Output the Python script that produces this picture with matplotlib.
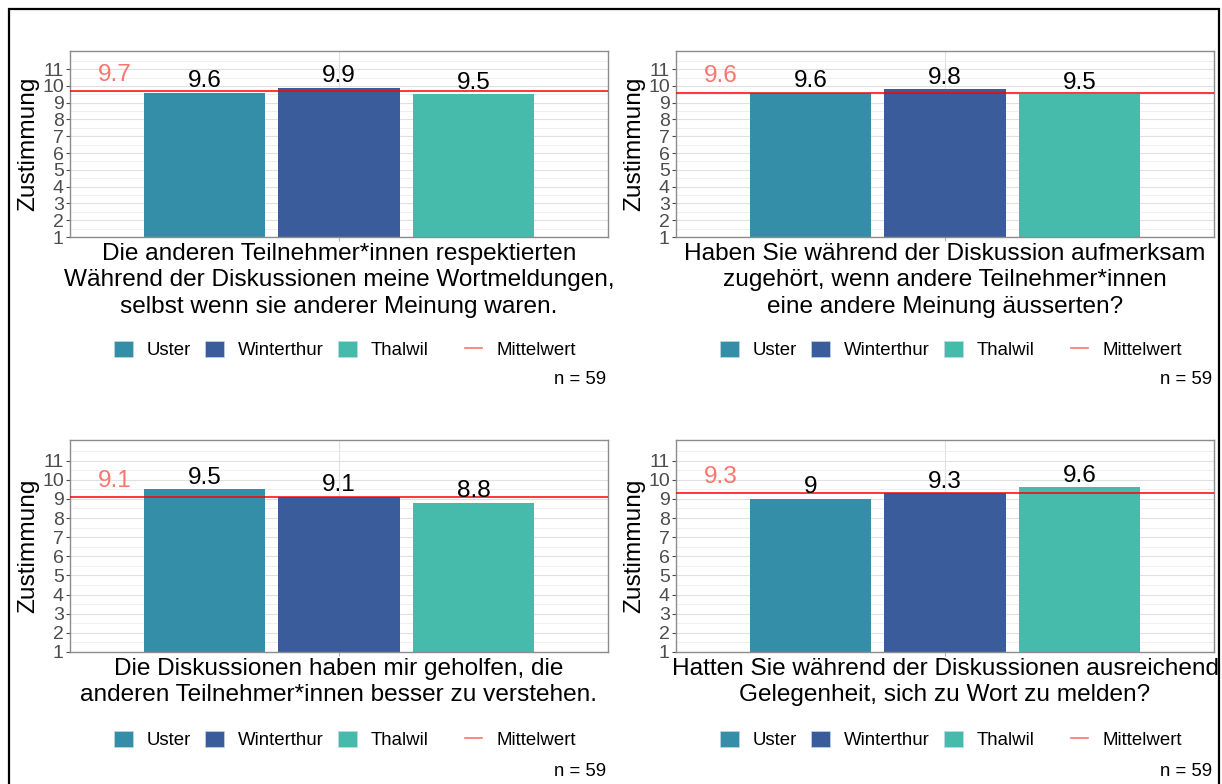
import numpy as np
import matplotlib
matplotlib.use('Agg')
import matplotlib.pyplot as plt
from matplotlib.patches import Patch, Rectangle
from matplotlib.lines import Line2D

plt.rcParams['font.family'] = ['Liberation Sans', 'DejaVu Sans']

# data
orte = ['Uster', 'Winterthur', 'Thalwil']
farben = ['#348EA8', '#3B5C9B', '#46BBAB']
titel = [
    'Die anderen Teilnehmer*innen respektierten\nWährend der Diskussionen meine Wortmeldungen,\nselbst wenn sie anderer Meinung waren.',
    'Haben Sie während der Diskussion aufmerksam\nzugehört, wenn andere Teilnehmer*innen\neine andere Meinung äusserten?',
    'Die Diskussionen haben mir geholfen, die\nanderen Teilnehmer*innen besser zu verstehen.',
    'Hatten Sie während der Diskussionen ausreichend\nGelegenheit, sich zu Wort zu melden?',
]
werte = [
    [9.6, 9.9, 9.5],
    [9.6, 9.8, 9.5],
    [9.5, 9.1, 8.8],
    [9.0, 9.3, 9.6],
]
mittel = [9.7, 9.6, 9.1, 9.3]
n_text = 'n = 59'
y_ticks = list(range(1, 12))

W, H = 1222, 784
fig = plt.figure(figsize=(W / 100, H / 100), dpi=100)

def box(x0, y0, x1, y1):
    # pixel rect (y from top) -> figure coords
    return [x0 / W, 1 - y1 / H, (x1 - x0) / W, (y1 - y0) / H]

# panel rects in pixels
panels = [(70, 51, 608, 237), (676, 51, 1214, 237),
          (70, 440, 608, 652), (676, 440, 1214, 652)]

for i, (x0, y0, x1, y1) in enumerate(panels):
    ax = fig.add_axes(box(x0, y0, x1, y1))
    x = np.arange(len(orte))
    ax.bar(x, werte[i], width=0.9, bottom=0, color=farben, zorder=2)
    ax.axhline(mittel[i], color='#FF0000', lw=1.1, zorder=3)
    for xi, v in zip(x, werte[i]):
        ax.annotate(f'{v:g}', (xi, v), xytext=(0, 4), textcoords='offset points',
                    ha='center', va='baseline', fontsize=17.6, color='black', zorder=4)
    ax.annotate(f'{mittel[i]:g}', (-0.67, mittel[i]), xytext=(0, 7.5),
                textcoords='offset points', ha='center', va='baseline',
                fontsize=17.6, color='#F8766D', zorder=4)

    ax.set_xlim(-1, 3)
    ax.set_ylim(1, 12.08)
    ax.set_yticks(y_ticks)
    ax.set_yticks(np.arange(1.5, 12, 1), minor=True)
    ax.set_xticks([1])
    ax.set_xticklabels([''])
    ax.grid(True, which='major', color='#E0E0E0', lw=0.8, zorder=0)
    ax.grid(True, which='minor', axis='y', color='#EDEDED', lw=0.6, zorder=0)
    ax.set_axisbelow(True)
    ax.tick_params(axis='y', labelsize=14, labelcolor='#4D4D4D', color='#4D4D4D',
                   length=3, pad=1.5, width=0.8)
    ax.tick_params(axis='x', color='#B3B3B3', length=3, width=0.8)
    ax.tick_params(which='minor', length=0)
    for s in ax.spines.values():
        s.set_color('#8C8C8C')
        s.set_linewidth(1.0)
    ax.set_ylabel('Zustimmung', fontsize=17.6, labelpad=2)

    cx = (x0 + x1) / 2
    fig.text(cx / W, 1 - (y1 + 6) / H, titel[i], ha='center', va='top',
             multialignment='center', fontsize=17.6, linespacing=1.25)

    # legends
    ly = 350 if i < 2 else 740
    h1 = [Patch(facecolor=c, edgecolor='#BFD8E0', lw=0.5) for c in farben]
    fig.legend(h1, orte, loc='center left', bbox_to_anchor=((x0 + 44) / W, 1 - ly / H),
               ncol=3, frameon=False, fontsize=13.4, handlelength=1.02, handleheight=1.02,
               handletextpad=0.75, columnspacing=0.75, borderpad=0, borderaxespad=0)
    h2 = [Line2D([0], [0], color='#F8766D', lw=1.2)]
    fig.legend(h2, ['Mittelwert'], loc='center left', bbox_to_anchor=((x0 + 395) / W, 1 - ly / H),
               frameon=False, fontsize=13.4, handlelength=0.92, handletextpad=0.75,
               borderpad=0, borderaxespad=0)

    ny = 380 if i < 2 else 771
    fig.text((x1 - 2) / W, 1 - ny / H, n_text, ha='right', va='center', fontsize=13.4)

# outer frame
fig.add_artist(Rectangle((9 / W, -0.05), (1219 - 9) / W, 1 - 9 / H + 0.05,
                         transform=fig.transFigure, fill=False, lw=1.6, ec='black'))

fig.savefig('out.png', dpi=100)
